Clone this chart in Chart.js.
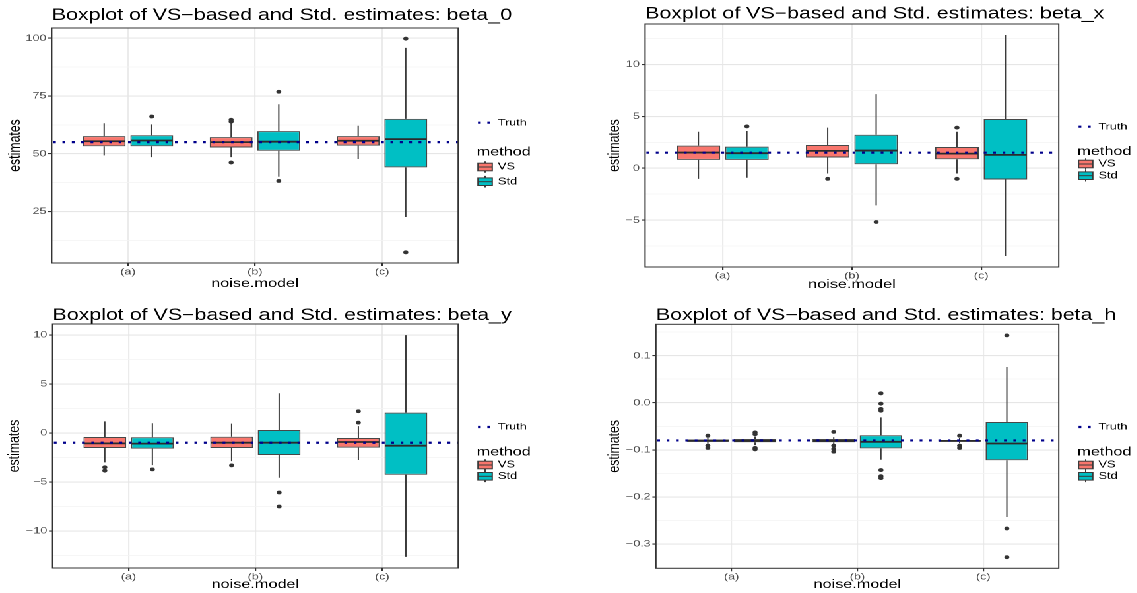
<!DOCTYPE html>
<html>
<head>
<meta charset="utf-8">
<script src="https://cdn.jsdelivr.net/npm/chart.js@4.4.1/dist/chart.umd.min.js"></script>
<style>
  html, body { margin: 0; padding: 0; background: #fff; overflow: hidden; }
  /* the source figure is stretched sideways, so the whole stage is too */
  #stage { position: absolute; left: 0; top: 0; width: 862px; height: 593px; transform: scaleX(1.32); transform-origin: 0 0; }
  #stage canvas { position: absolute; }
</style>
</head>
<body>
<div id="stage">
  <canvas id="c0" width="430" height="295" style="left:0;top:0;width:430px;height:295px"></canvas>
  <canvas id="c1" width="430" height="295" style="left:432px;top:0;width:430px;height:295px"></canvas>
  <canvas id="c2" width="430" height="298" style="left:0;top:295px;width:430px;height:298px"></canvas>
  <canvas id="c3" width="430" height="298" style="left:432px;top:295px;width:430px;height:298px"></canvas>
</div>
<script>
const groups = ['(a)', '(b)', '(c)'];
const methods = ['VS', 'Std'];

// box stats per noise model: [lower whisker, Q1, median, Q3, upper whisker]
const beta0VS = [[49.3, 53.2, 55.4, 57.6, 63.2], [48.5, 52.7, 55.0, 57.2, 63.5], [47.7, 53.5, 55.6, 57.6, 62.1]];
const beta0Std = [[48.5, 53.2, 55.7, 58.0, 62.7], [40.0, 51.3, 55.2, 59.8, 71.4], [22.6, 44.1, 56.3, 65.1, 95.8]];
const beta0VSOut = [[], [46.2, 63.9, 64.7], []];
const beta0StdOut = [[66.1], [38.2, 76.8], [7.3, 99.8]];
const beta0Truth = 55;
const beta0Ticks = [25, 50, 75, 100];

const betaXVS = [[-1.02, 0.80, 1.51, 2.18, 3.52], [-0.51, 1.03, 1.67, 2.24, 3.91], [-0.51, 0.86, 1.41, 2.05, 3.52]];
const betaXStd = [[-0.92, 0.80, 1.45, 2.08, 3.59], [-3.58, 0.38, 1.70, 3.23, 7.14], [-8.45, -1.08, 1.29, 4.74, 12.83]];
const betaXVSOut = [[], [-1.02], [-1.02, 3.91]];
const betaXStdOut = [[4.03], [-5.18], []];
const betaXTruth = 1.5;
const betaXTicks = [-5, 0, 5, 10];

const betaYVS = [[-3.0, -1.54, -1.06, -0.41, 1.19], [-2.87, -1.54, -0.99, -0.38, 0.96], [-2.76, -1.50, -0.92, -0.51, 0.7]];
const betaYStd = [[-3.28, -1.60, -1.09, -0.44, 0.99], [-4.57, -2.25, -0.99, 0.31, 4.06], [-12.66, -4.27, -1.30, 2.08, 10.0]];
const betaYVSOut = [[-3.5, -3.85], [-3.31], [1.06, 2.22]];
const betaYStdOut = [[-3.72], [-6.08, -7.51], []];
const betaYTruth = -1;
const betaYTicks = [-10, -5, 0, 5, 10];

const betaHVS = [[-0.087, -0.083, -0.081, -0.078, -0.074], [-0.088, -0.084, -0.081, -0.077, -0.073], [-0.086, -0.083, -0.081, -0.079, -0.075]];
const betaHStd = [[-0.090, -0.084, -0.081, -0.077, -0.072], [-0.121, -0.097, -0.083, -0.069, -0.031], [-0.2426, -0.122, -0.0865, -0.041, 0.076]];
const betaHVSOut = [[-0.070, -0.091, -0.096], [-0.062, -0.091, -0.098, -0.104], [-0.070, -0.091, -0.096]];
const betaHStdOut = [[-0.063, -0.067, -0.096, -0.099], [0.020, -0.002, -0.013, -0.017, -0.143, -0.156, -0.160], [0.143, -0.267, -0.328]];
const betaHTruth = -0.08;
const betaHTicks = [-0.3, -0.2, -0.1, 0.0, 0.1];

const FONT = '"Liberation Sans", Arial, sans-serif';
const colors = ['#F8766D', '#00BFC4'];

const panels = [
  { id: 'c0', name: 'beta_0', vs: beta0VS, std: beta0Std, vsOut: beta0VSOut, stdOut: beta0StdOut,
    truth: beta0Truth, ticks: beta0Ticks, digits: 0,
    area: { left: 39.2, right: 347.1, top: 28, bottom: 263 },
    titleY: 20, yTitleX: 11.5, xTitleY: 283.5, legY: [122.7, 152, 167, 181.7] },
  { id: 'c1', name: 'beta_x', vs: betaXVS, std: betaXStd, vsOut: betaXVSOut, stdOut: betaXStdOut,
    truth: betaXTruth, ticks: betaXTicks, digits: 0,
    area: { left: 56.7, right: 370.1, top: 24, bottom: 267 },
    titleY: 18.3, yTitleX: 33.6, xTitleY: 284.8, legY: [126.7, 151.7, 164, 175.7] },
  { id: 'c2', name: 'beta_y', vs: betaYVS, std: betaYStd, vsOut: betaYVSOut, stdOut: betaYStdOut,
    truth: betaYTruth, ticks: betaYTicks, digits: 0,
    area: { left: 39.8, right: 347.1, top: 29, bottom: 273 },
    titleY: 25, yTitleX: 11.2, xTitleY: 289.8, legY: [132, 157.3, 170, 181.3] },
  { id: 'c3', name: 'beta_h', vs: betaHVS, std: betaHStd, vsOut: betaHVSOut, stdOut: betaHStdOut,
    truth: betaHTruth, ticks: betaHTicks, digits: 1,
    area: { left: 64.9, right: 370.1, top: 29.3, bottom: 273.3 },
    titleY: 25, yTitleX: 33.6, xTitleY: 289.8, legY: [132, 157.3, 170, 181.3] }
];

function fmt(v, d) {
  const s = Math.abs(v) < 1e-9 ? (0).toFixed(d) : v.toFixed(d);
  return s.replace('-', '\u2212');
}

function extent(p) {
  const all = [].concat(...p.vs, ...p.std, ...p.vsOut, ...p.stdOut, [p.truth]);
  return [Math.min(...all), Math.max(...all)];
}

function line(ctx, x1, y1, x2, y2) {
  ctx.beginPath();
  ctx.moveTo(x1, y1);
  ctx.lineTo(x2, y2);
  ctx.stroke();
}

function boxPlugin(p) {
  return {
    id: 'boxExtras',
    afterDatasetsDraw(chart) {
      const ctx = chart.ctx;
      const a = chart.chartArea;
      const y = chart.scales.y;
      ctx.save();
      ctx.beginPath();
      ctx.rect(a.left, a.top, a.right - a.left, a.bottom - a.top);
      ctx.clip();
      [p.vs, p.std].forEach((stats, di) => {
        const outs = di === 0 ? p.vsOut : p.stdOut;
        chart.getDatasetMeta(di).data.forEach((bar, gi) => {
          const s = stats[gi];
          const half = bar.width / 2;
          ctx.strokeStyle = '#3a3a3a';
          ctx.lineWidth = 1;
          line(ctx, bar.x, y.getPixelForValue(s[0]), bar.x, y.getPixelForValue(s[1]));
          line(ctx, bar.x, y.getPixelForValue(s[3]), bar.x, y.getPixelForValue(s[4]));
          ctx.strokeStyle = '#2b2b2b';
          ctx.lineWidth = 1.8;
          const ym = y.getPixelForValue(s[2]);
          line(ctx, bar.x - half + 0.5, ym, bar.x + half - 0.5, ym);
          ctx.fillStyle = '#333333';
          outs[gi].forEach(v => {
            ctx.beginPath();
            ctx.arc(bar.x, y.getPixelForValue(v), 1.9, 0, Math.PI * 2);
            ctx.fill();
          });
        });
      });
      // truth line
      ctx.strokeStyle = '#00008B';
      ctx.lineWidth = 2.2;
      ctx.setLineDash([2.1, 5.0]);
      const yt = y.getPixelForValue(p.truth);
      line(ctx, a.left + 1, yt, a.right, yt);
      ctx.restore();

      // panel border
      ctx.save();
      ctx.strokeStyle = '#333333';
      ctx.lineWidth = 1;
      ctx.strokeRect(a.left, a.top, a.right - a.left, a.bottom - a.top);

      // titles
      ctx.fillStyle = '#000';
      ctx.textBaseline = 'alphabetic';
      ctx.textAlign = 'left';
      ctx.font = '16.2px ' + FONT;
      ctx.fillText('Boxplot of VS\u2212based and Std. estimates: ' + p.name, a.left, p.titleY);

      ctx.font = '12.3px ' + FONT;
      ctx.textAlign = 'center';
      ctx.textBaseline = 'middle';
      ctx.fillText('noise.model', (a.left + a.right) / 2, p.xTitleY);
      ctx.save();
      ctx.translate(p.yTitleX, (a.top + a.bottom) / 2);
      ctx.rotate(-Math.PI / 2);
      ctx.fillText('estimates', 0, 0);
      ctx.restore();

      // legend
      const kx = a.right + 15;
      const tx = a.right + 30;
      ctx.save();
      ctx.strokeStyle = '#00008B';
      ctx.lineWidth = 2.2;
      ctx.setLineDash([2.1, 5.0]);
      line(ctx, kx, p.legY[0], kx + 10.5, p.legY[0]);
      ctx.restore();
      ctx.textAlign = 'left';
      ctx.font = '9.6px ' + FONT;
      ctx.fillText('Truth', tx, p.legY[0]);
      ctx.font = '12.3px ' + FONT;
      ctx.fillText('method', a.right + 14, p.legY[1]);
      methods.forEach((m, i) => {
        const cy = p.legY[2 + i];
        const kw = 10.8, kh = 7.6;
        ctx.strokeStyle = '#3a3a3a';
        ctx.lineWidth = 1;
        line(ctx, kx + kw / 2, cy - kh / 2 - 2, kx + kw / 2, cy + kh / 2 + 2);
        ctx.fillStyle = colors[i];
        ctx.fillRect(kx, cy - kh / 2, kw, kh);
        ctx.strokeRect(kx, cy - kh / 2, kw, kh);
        line(ctx, kx, cy, kx + kw, cy);
        ctx.fillStyle = '#000';
        ctx.font = '9.8px ' + FONT;
        ctx.fillText(m, tx, cy);
      });
      ctx.restore();
    }
  };
}

function buildChart(p) {
  const canvas = document.getElementById(p.id);
  const W = canvas.width, H = canvas.height;
  const a = p.area;
  const [lo, hi] = extent(p);
  const pad = (hi - lo) * 0.05;
  const step = p.ticks[1] - p.ticks[0];
  const isMajor = v => p.ticks.some(t => Math.abs(t - v) < step * 1e-6);

  const boxData = stats => stats.map((s, i) => ({ x: i + 1, y: [s[1], s[3]] }));
  const boxStyle = {
    borderColor: 'rgba(51,51,51,0.9)',
    borderWidth: 1,
    borderSkipped: false,
    categoryPercentage: 0.75,
    barPercentage: 0.9
  };

  return new Chart(canvas, {
    type: 'bar',
    data: {
      datasets: [
        Object.assign({ label: methods[0], data: boxData(p.vs), backgroundColor: colors[0] }, boxStyle),
        Object.assign({ label: methods[1], data: boxData(p.std), backgroundColor: colors[1] }, boxStyle)
      ]
    },
    options: {
      responsive: false,
      animation: false,
      devicePixelRatio: 2,
      layout: { padding: { left: 0, top: a.top, right: W - a.right, bottom: 0 } },
      plugins: { legend: { display: false }, tooltip: { enabled: false }, title: { display: false } },
      scales: {
        x: {
          type: 'linear',
          min: 0.4,
          max: 3.6,
          offset: false,
          afterBuildTicks: s => { s.ticks = groups.map((g, i) => ({ value: i + 1 })); },
          afterFit: s => { s.height = H - a.bottom; },
          ticks: {
            callback: v => groups[Math.round(v) - 1] || '',
            color: '#4D4D4D',
            font: { family: FONT, size: 9.5 },
            padding: 0,
            maxRotation: 0,
            autoSkip: false
          },
          grid: { color: '#EBEBEB', lineWidth: 1.1, tickColor: '#333333', tickLength: 3, offset: false },
          border: { display: false }
        },
        y: {
          type: 'linear',
          min: lo - pad,
          max: hi + pad,
          afterBuildTicks: s => {
            const vals = [];
            p.ticks.forEach(t => { vals.push(t - step / 2, t); });
            vals.push(p.ticks[p.ticks.length - 1] + step / 2);
            s.ticks = vals.filter(v => v >= s.min && v <= s.max).map(v => ({ value: v }));
          },
          afterFit: s => { s.width = a.left; },
          ticks: {
            callback: v => isMajor(v) ? fmt(v, p.digits) : '',
            color: '#4D4D4D',
            font: { family: FONT, size: 9.5 },
            padding: 1.3,
            autoSkip: false
          },
          grid: {
            color: c => (c.tick && isMajor(c.tick.value)) ? '#E6E6E6' : '#F3F3F3',
            lineWidth: c => (c.tick && isMajor(c.tick.value)) ? 1.1 : 0.8,
            tickColor: c => (c.tick && isMajor(c.tick.value)) ? '#333333' : 'rgba(0,0,0,0)',
            tickLength: 2.7
          },
          border: { display: false }
        }
      }
    },
    plugins: [boxPlugin(p)]
  });
}

panels.forEach(buildChart);
</script>
</body>
</html>
